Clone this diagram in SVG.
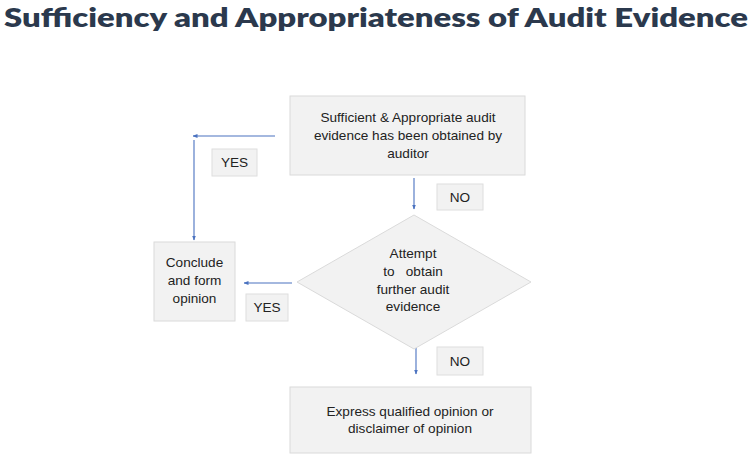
<svg xmlns="http://www.w3.org/2000/svg" width="753" height="458" viewBox="0 0 753 458">
<defs>
<style>
.box{fill:#f2f2f2;stroke:#dadada;stroke-width:1}
.lbl{fill:#f2f2f2;stroke:#dedede;stroke-width:1}
.t{font-family:"Liberation Sans",Arial,sans-serif;font-size:13.6px;fill:#222;text-anchor:middle}
.c{stroke:#4a72c0;stroke-width:1.1;fill:none}
.title{font-family:Lato,"Open Sans",sans-serif;font-weight:800;font-size:26.5px;fill:#2b394d}
</style>
<marker id="ah" viewBox="0 0 10 10" refX="9" refY="5" markerWidth="5" markerHeight="5" orient="auto" markerUnits="userSpaceOnUse">
<path d="M0,1 L10,5 L0,9 z" fill="#4a72c0"/>
</marker>
</defs>
<rect width="753" height="458" fill="#ffffff"/>
<text class="title" x="4" y="26.5" textLength="744" lengthAdjust="spacingAndGlyphs">Sufficiency and Appropriateness of Audit Evidence</text>

<g id="connectors">
<line class="c" x1="275" y1="136" x2="193" y2="136" marker-end="url(#ah)"/>
<line class="c" x1="194" y1="140" x2="194" y2="240" marker-end="url(#ah)"/>
<line class="c" x1="414" y1="178" x2="414" y2="209" marker-end="url(#ah)"/>
<line class="c" x1="292" y1="283" x2="244" y2="283" marker-end="url(#ah)"/>
<line class="c" x1="416" y1="348" x2="416" y2="374" marker-end="url(#ah)"/>
</g>

<g id="node-sufficient">
<rect class="box" x="290" y="96" width="235" height="79"/>
<text class="t" x="408" y="122">Sufficient &amp; Appropriate audit</text>
<text class="t" x="408" y="140">evidence has been obtained by</text>
<text class="t" x="408" y="158">auditor</text>
</g>

<g id="label-yes-1">
<rect class="lbl" x="212" y="149" width="45" height="27"/>
<text class="t" x="234.5" y="167">YES</text>
</g>

<g id="label-no-1">
<rect class="lbl" x="437" y="184" width="46" height="26"/>
<text class="t" x="460" y="202">NO</text>
</g>

<g id="node-attempt">
<polygon class="box" points="414,215 531,282 414,349 297,282"/>
<text class="t" x="413" y="258">Attempt</text>
<text class="t" x="413" y="276" xml:space="preserve">to   obtain</text>
<text class="t" x="413" y="294">further audit</text>
<text class="t" x="413" y="311">evidence</text>
</g>

<g id="node-conclude">
<rect class="box" x="154" y="242" width="81" height="79"/>
<text class="t" x="194.5" y="267">Conclude</text>
<text class="t" x="194.5" y="285">and form</text>
<text class="t" x="194.5" y="303">opinion</text>
</g>

<g id="label-yes-2">
<rect class="lbl" x="246" y="294" width="42" height="27"/>
<text class="t" x="267" y="312">YES</text>
</g>

<g id="label-no-2">
<rect class="lbl" x="437" y="347" width="46" height="28"/>
<text class="t" x="460" y="366">NO</text>
</g>

<g id="node-express">
<rect class="box" x="290" y="387" width="241" height="66"/>
<text class="t" x="410" y="416">Express qualified opinion or</text>
<text class="t" x="410" y="433">disclaimer of opinion</text>
</g>
</svg>
